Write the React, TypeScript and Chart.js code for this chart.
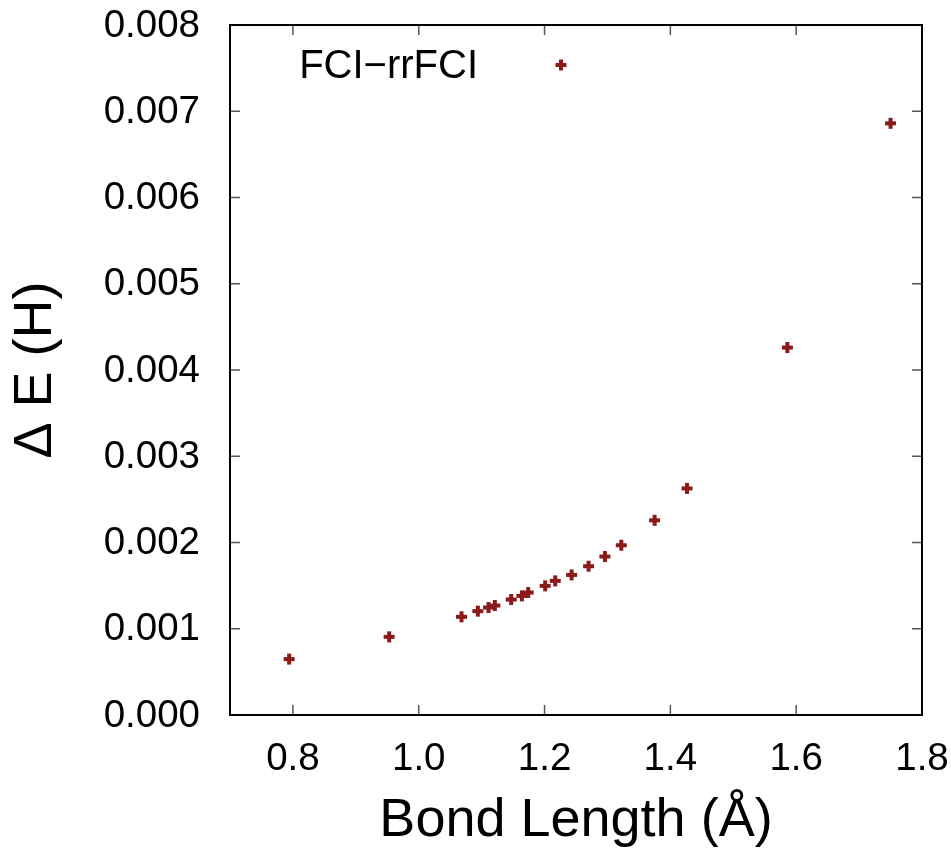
import React, { useEffect, useRef } from "react";
import { Chart, registerables } from "chart.js";

Chart.register(...registerables);

// Bond length (Å)
const bondLength = [0.794, 0.953, 1.068, 1.094, 1.111, 1.121, 1.147, 1.164, 1.174, 1.201, 1.217, 1.243, 1.27, 1.296, 1.322, 1.375, 1.4265, 1.586, 1.75];
// ΔE (H)
const deltaE = [0.000648, 0.000906, 0.001138, 0.001204, 0.001246, 0.001269, 0.001339, 0.001381, 0.00142, 0.001497, 0.001555, 0.001624, 0.001725, 0.001837, 0.001968, 0.002257, 0.002627, 0.00426, 0.00686];

const xTickValues = [0.8, 1.0, 1.2, 1.4, 1.6, 1.8];
const yTickValues = [0, 0.001, 0.002, 0.003, 0.004, 0.005, 0.006, 0.007, 0.008];
const seriesLabel = "FCI\u2212rrFCI";
const xTitle = "Bond Length (\u00C5)";
const yTitle = "\u0394 E (H)";

const FONT = "'Liberation Sans', Arial, Helvetica, sans-serif";
const MARK = "#8b1a1a";

function drawCross(ctx: CanvasRenderingContext2D, x: number, y: number) {
  ctx.save();
  ctx.fillStyle = MARK;
  ctx.fillRect(x - 5.5, y - 2, 11, 4);
  ctx.fillRect(x - 2, y - 5.5, 4, 11);
  ctx.restore();
}

const framePlugin = {
  id: "frame",
  afterDraw(chart: any) {
    const { ctx, chartArea: a, scales } = chart;
    const xs = scales.x;
    const ys = scales.y;
    ctx.save();
    // inward ticks on all four sides
    ctx.strokeStyle = "#555";
    ctx.lineWidth = 1.5;
    const len = 10;
    xTickValues.forEach((v) => {
      const px = xs.getPixelForValue(v);
      ctx.beginPath();
      ctx.moveTo(px, a.bottom);
      ctx.lineTo(px, a.bottom - len);
      ctx.moveTo(px, a.top);
      ctx.lineTo(px, a.top + len);
      ctx.stroke();
    });
    yTickValues.forEach((v) => {
      const py = ys.getPixelForValue(v);
      ctx.beginPath();
      ctx.moveTo(a.left, py);
      ctx.lineTo(a.left + len, py);
      ctx.moveTo(a.right, py);
      ctx.lineTo(a.right - len, py);
      ctx.stroke();
    });
    // frame
    ctx.strokeStyle = "#000";
    ctx.lineWidth = 2;
    ctx.strokeRect(a.left, a.top, a.right - a.left, a.bottom - a.top);

    // tick labels
    ctx.fillStyle = "#000";
    ctx.font = `38.5px ${FONT}`;
    ctx.textBaseline = "middle";
    ctx.textAlign = "center";
    xTickValues.forEach((v) => {
      ctx.fillText(v.toFixed(1), xs.getPixelForValue(v), a.bottom + 44);
    });
    ctx.textAlign = "right";
    yTickValues.forEach((v) => {
      ctx.fillText(v.toFixed(3), a.left - 30, ys.getPixelForValue(v) + 1);
    });

    // axis titles
    ctx.font = `54px ${FONT}`;
    ctx.textAlign = "center";
    ctx.fillText(xTitle, (a.left + a.right) / 2, a.bottom + 106);
    ctx.save();
    ctx.translate(36, (a.top + a.bottom) / 2);
    ctx.rotate(-Math.PI / 2);
    ctx.fillText(yTitle, 0, 0);
    ctx.restore();

    // key
    ctx.font = `40px ${FONT}`;
    ctx.textAlign = "right";
    ctx.fillText(seriesLabel, a.left + 248, a.top + 42);
    drawCross(ctx, a.left + 331, a.top + 40);
    ctx.restore();
  },
};

export default function App() {
  const ref = useRef<HTMLCanvasElement | null>(null);
  useEffect(() => {
    if (!ref.current) return;
    const chart = new Chart(ref.current, {
      type: "scatter",
      data: {
        datasets: [
          {
            label: seriesLabel,
            data: bondLength.map((x, i) => ({ x, y: deltaE[i] })),
            pointRadius: 0,
            backgroundColor: MARK,
            borderColor: MARK,
          },
        ],
      },
      options: {
        animation: false,
        responsive: true,
        maintainAspectRatio: false,
        layout: { autoPadding: false, padding: { top: 25, right: 29, left: 0, bottom: 0 } },
        plugins: { legend: { display: false }, tooltip: { enabled: false } },
        scales: {
          x: {
            type: "linear",
            min: 0.7,
            max: 1.8,
            afterBuildTicks: (s: any) => {
              s.ticks = xTickValues.map((value) => ({ value }));
            },
            afterFit: (s: any) => {
              s.height = 133;
            },
            grid: { display: false, drawTicks: false },
            border: { display: false },
            ticks: { display: false },
            title: { display: false },
          },
          y: {
            type: "linear",
            min: 0,
            max: 0.008,
            afterBuildTicks: (s: any) => {
              s.ticks = yTickValues.map((value) => ({ value }));
            },
            afterFit: (s: any) => {
              s.width = 230;
            },
            grid: { display: false, drawTicks: false },
            border: { display: false },
            ticks: { display: false },
            title: { display: false },
          },
        },
      },
      plugins: [
        framePlugin,
        {
          id: "crossPoints",
          afterDatasetsDraw(chart: any) {
            const meta = chart.getDatasetMeta(0);
            meta.data.forEach((el: any) => drawCross(chart.ctx, el.x, el.y));
          },
        },
      ],
    });
    return () => chart.destroy();
  }, []);
  return (
    <div style={{ position: "absolute", left: 0, top: 0, width: 951, height: 848, background: "#fff" }}>
      <canvas ref={ref} />
    </div>
  );
}
